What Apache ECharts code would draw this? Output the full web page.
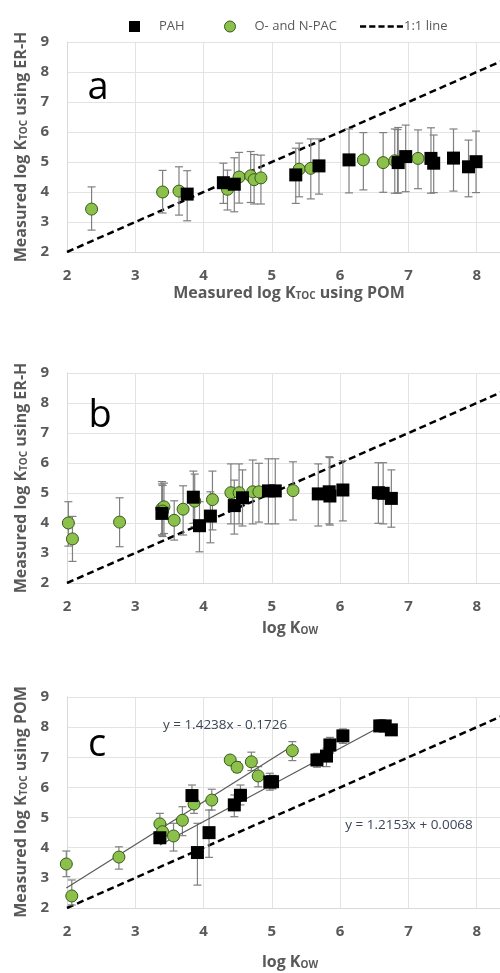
<!DOCTYPE html>
<html>
<head>
<meta charset="utf-8">
<script src="https://cdn.jsdelivr.net/npm/echarts@6/dist/echarts.min.js"></script>
<style>
html,body{margin:0;padding:0;background:#fff;}
#chart{width:500px;height:973px;}
</style>
</head>
<body>
<div id="chart"></div>
<script>
// Data rows: [x, y, errorLow, errorHigh]
const aPAH = [
  [3.76,3.93,3.04,4.71],[4.29,4.31,3.62,4.96],[4.45,4.26,3.34,5.14],
  [5.35,4.57,3.62,5.46],[5.69,4.87,3.93,5.77],[6.13,5.07,3.97,6.10],
  [6.85,4.98,3.97,6.15],[6.96,5.18,4.01,6.23],[7.33,5.12,3.96,6.14],
  [7.37,4.96,3.98,5.90],[7.66,5.13,4.03,6.10],[7.88,4.84,3.84,5.73],
  [7.99,5.01,3.98,6.03]
];
const aNPAC = [
  [2.36,3.43,2.73,4.17],[3.40,4.00,3.30,4.72],[3.64,4.03,3.23,4.84],
  [4.35,4.09,3.40,4.73],[4.52,4.50,3.63,5.32],[4.69,4.54,3.65,5.35],
  [4.74,4.41,3.60,5.25],[4.84,4.47,3.60,5.23],[5.40,4.76,3.84,5.63],
  [5.57,4.79,3.77,5.77],[6.34,5.07,4.07,5.98],[6.63,4.98,3.99,5.98],
  [6.80,5.04,3.96,6.10],[6.84,5.01,3.96,6.08],[7.14,5.12,4.11,6.07]
];
const bPAH = [
  [3.39,4.32,3.60,5.38],[3.85,4.86,3.99,5.73],[3.94,3.91,3.04,4.71],
  [4.10,4.23,3.34,5.04],[4.45,4.58,3.63,5.43],[4.57,4.84,3.90,5.77],
  [4.95,5.07,3.97,6.14],[5.05,5.07,3.97,6.14],[5.68,4.97,3.90,5.97],
  [5.84,5.04,3.97,6.21],[5.85,4.90,3.93,6.18],[6.04,5.10,4.07,6.08],
  [6.56,5.01,3.99,6.01],[6.63,4.99,3.97,6.01],[6.75,4.82,3.86,5.77]
];
const bNPAC = [
  [2.02,4.00,3.23,4.71],[2.08,3.47,2.72,4.22],[2.77,4.03,3.21,4.84],
  [3.39,4.48,3.60,5.30],[3.42,4.54,3.65,5.33],[3.40,4.40,3.55,5.25],
  [3.57,4.09,3.43,4.74],[3.70,4.46,3.60,5.24],[3.87,4.73,3.88,5.63],
  [4.13,4.78,3.77,5.73],[4.40,5.01,3.97,5.97],[4.52,5.01,3.97,5.97],
  [4.72,5.04,3.97,6.10],[4.81,5.04,4.03,5.99],[5.31,5.08,4.10,6.04]
];
const cPAH = [
  [3.36,4.33,4.15,4.50],[3.83,5.73,5.36,6.08],[3.91,3.84,2.76,4.81],
  [4.08,4.50,3.68,5.25],[4.45,5.42,5.03,5.75],[4.54,5.74,5.42,6.08],
  [4.97,6.18,5.91,6.47],[5.01,6.19,5.95,6.40],[5.66,6.91,6.67,7.13],
  [5.80,7.04,6.69,7.30],[5.85,7.41,7.13,7.66],[6.04,7.71,7.46,7.94],
  [6.58,8.04,7.90,8.24],[6.66,8.04,7.90,8.20],[6.75,7.91,7.80,8.05]
];
const cNPAC = [
  [1.99,3.46,3.04,3.89],[2.07,2.40,2.10,2.93],[2.76,3.69,3.29,4.03],
  [3.36,4.79,4.50,5.14],[3.40,4.53,4.30,4.80],[3.56,4.39,3.89,4.81],
  [3.69,4.91,4.40,5.36],[3.86,5.45,5.14,5.81],[4.12,5.58,5.25,5.94],
  [4.39,6.91,6.80,7.00],[4.49,6.67,6.50,6.85],[4.70,6.85,6.56,7.17],
  [4.80,6.38,6.02,6.69],[5.30,7.22,6.89,7.52]
];
const oneToOne = [[2,2],[9,9]];
// Trendlines in panel c, from the printed equations: [slope, intercept, xStart, xEnd]
const trendNPAC = [1.4238, -0.1726, 1.99, 5.30];
const trendPAH = [1.2153, 0.0068, 3.36, 6.75];
const eqNPAC = 'y = 1.4238x - 0.1726';
const eqPAH = 'y = 1.2153x + 0.0068';
const axisTicks = [2,3,4,5,6,7,8,9];
const panelLetters = ['a','b','c'];

const FONT = '"Open Sans", "Liberation Sans", sans-serif';
const GREY = '#595959';
const gridTops = [42, 373, 697];
const gridHeights = [210, 210, 211];

const chart = echarts.init(document.getElementById('chart'), null, {renderer:'canvas'});

function trendData(t){ return [[t[2], t[0]*t[2]+t[1]], [t[3], t[0]*t[3]+t[1]]]; }

const grids = gridTops.map((t,i)=>({left:67, top:t, width:478, height:gridHeights[i], containLabel:false, outerBoundsMode:'none'}));
const xAxes = grids.map((g,i)=>({
  gridIndex:i, type:'value', min:axisTicks[0], max:axisTicks[axisTicks.length-1], interval:1,
  axisLine:{show:true, lineStyle:{color:'#d9d9d9'}}, axisTick:{show:false},
  splitLine:{show:true, lineStyle:{color:'#e3e3e3'}},
  axisLabel:{color:GREY, fontFamily:FONT, fontWeight:'bold', fontSize:15, margin:16}
}));
const yAxes = grids.map((g,i)=>({
  gridIndex:i, type:'value', min:axisTicks[0], max:axisTicks[axisTicks.length-1], interval:1,
  axisLine:{show:true, lineStyle:{color:'#d9d9d9'}}, axisTick:{show:false},
  splitLine:{show:true, lineStyle:{color:'#e3e3e3'}},
  axisLabel:{color:GREY, fontFamily:FONT, fontWeight:'bold', fontSize:15, margin:18}
}));

function errRender(params, api){
  const x = api.value(0), lo = api.value(2), hi = api.value(3);
  const pH = api.coord([x, hi]), pL = api.coord([x, lo]);
  const w = 4;
  const st = {stroke:'#808080', lineWidth:1.2};
  return {type:'group', children:[
    {type:'line', shape:{x1:pH[0], y1:pH[1], x2:pL[0], y2:pL[1]}, style:st},
    {type:'line', shape:{x1:pH[0]-w, y1:pH[1], x2:pH[0]+w, y2:pH[1]}, style:st},
    {type:'line', shape:{x1:pL[0]-w, y1:pL[1], x2:pL[0]+w, y2:pL[1]}, style:st}
  ]};
}

const PAH_COLOR = '#000';
const NPAC_COLOR = '#8BC04B';
const pahSets = [aPAH, bPAH, cPAH];
const npacSets = [aNPAC, bNPAC, cNPAC];
const series = [];
for (let i=0;i<3;i++){
  series.push({name:'PAH', type:'scatter', xAxisIndex:i, yAxisIndex:i, data:pahSets[i], symbol:'rect', symbolSize:13,
    itemStyle:{color:PAH_COLOR, opacity:1}, clip:false, z:4});
  series.push({name:'O- and N-PAC', type:'scatter', xAxisIndex:i, yAxisIndex:i, data:npacSets[i], symbol:'circle', symbolSize:12,
    itemStyle:{color:NPAC_COLOR, borderColor:'#3a5a1c', borderWidth:1, opacity:1}, clip:false, z:3});
  series.push({name:'1:1 line', type:'line', xAxisIndex:i, yAxisIndex:i, data:oneToOne, symbol:'none',
    itemStyle:{color:'#000'}, lineStyle:{color:'#000', width:2.5, type:[7,4]}, z:1, silent:true});
  series.push({name:'PAH', type:'custom', xAxisIndex:i, yAxisIndex:i, data:pahSets[i], renderItem:errRender,
    itemStyle:{color:PAH_COLOR}, encode:{x:0, y:[2,3]}, z:2, silent:true});
  series.push({name:'O- and N-PAC', type:'custom', xAxisIndex:i, yAxisIndex:i, data:npacSets[i], renderItem:errRender,
    itemStyle:{color:NPAC_COLOR}, encode:{x:0, y:[2,3]}, z:2, silent:true});
}
series.push({name:'trendNPAC', type:'line', xAxisIndex:2, yAxisIndex:2, data:trendData(trendNPAC), symbol:'none',
  lineStyle:{color:'#595959', width:1.2}, z:2, silent:true});
series.push({name:'trendPAH', type:'line', xAxisIndex:2, yAxisIndex:2, data:trendData(trendPAH), symbol:'none',
  lineStyle:{color:'#595959', width:1.2}, z:2, silent:true});

const DASH_ICON = 'path://M0,0h6v2.5h-6zM9,0h6v2.5h-6zM18,0h6v2.5h-6zM27,0h6v2.5h-6zM36,0h6v2.5h-6z';
const legendText = {color:GREY, fontFamily:FONT, fontSize:13};
const legends = [
  {data:[{name:'PAH', icon:'rect', itemStyle:{color:PAH_COLOR}}], left:124, top:15, itemWidth:11, itemHeight:11,
   textStyle:Object.assign({}, legendText, {padding:[0,0,0,14]}), selectedMode:false},
  {data:[{name:'O- and N-PAC', icon:'circle', itemStyle:{color:NPAC_COLOR, borderColor:'#3a5a1c', borderWidth:1}}], left:219, top:15, itemWidth:11, itemHeight:11,
   textStyle:Object.assign({}, legendText, {padding:[0,0,0,14]}), selectedMode:false},
  {data:[{name:'1:1 line', icon:DASH_ICON, itemStyle:{color:'#000', borderWidth:0}}], left:355, top:15, itemWidth:43, itemHeight:11,
   symbolKeepAspect:true,
   textStyle:Object.assign({}, legendText, {padding:[0,0,0,-4]}), selectedMode:false}
];

const richSub = {
  s:{fontSize:10, fontFamily:FONT, fontWeight:'bold', fill:GREY, color:GREY, verticalAlign:'bottom', padding:[6,0,0,0]}
};
function titleText(x, y, str, rot){
  return {type:'text', x:x, y:y, rotation:rot||0, z:10,
    style:{text:str, fontFamily:FONT, fontWeight:'bold', fontSize:16, fill:GREY, align:'center', verticalAlign:'middle', rich:richSub}};
}
const graphics = [
  titleText(21, 147, 'Measured log K{s|TOC} using ER-H', Math.PI/2),
  titleText(21, 478, 'Measured log K{s|TOC} using ER-H', Math.PI/2),
  titleText(21, 802, 'Measured log K{s|TOC} using POM', Math.PI/2),
  titleText(289, 293, 'Measured log K{s|TOC} using POM'),
  titleText(290, 628, 'log K{s|OW}'),
  titleText(290, 962, 'log K{s|OW}')
];
const letterPos = [[98,88],[100,416],[97,745]];
panelLetters.forEach((L,i)=>{
  graphics.push({type:'text', x:letterPos[i][0], y:letterPos[i][1], z:10,
    style:{text:L, fontFamily:'"Open Sans", sans-serif', fontSize:38, fill:'#000', align:'center', verticalAlign:'middle'}});
});
graphics.push({type:'text', x:225, y:725, z:10, style:{text:eqNPAC, fontFamily:FONT, fontSize:13.5, fill:'#3b4656', align:'center', verticalAlign:'middle'}});
graphics.push({type:'text', x:409, y:825, z:10, style:{text:eqPAH, fontFamily:FONT, fontSize:13.5, fill:'#3b4656', align:'center', verticalAlign:'middle'}});

chart.setOption({
  animation:false,
  backgroundColor:'#fff',
  grid:grids, xAxis:xAxes, yAxis:yAxes,
  legend:legends,
  series:series,
  graphic:graphics
});
</script>
</body>
</html>
